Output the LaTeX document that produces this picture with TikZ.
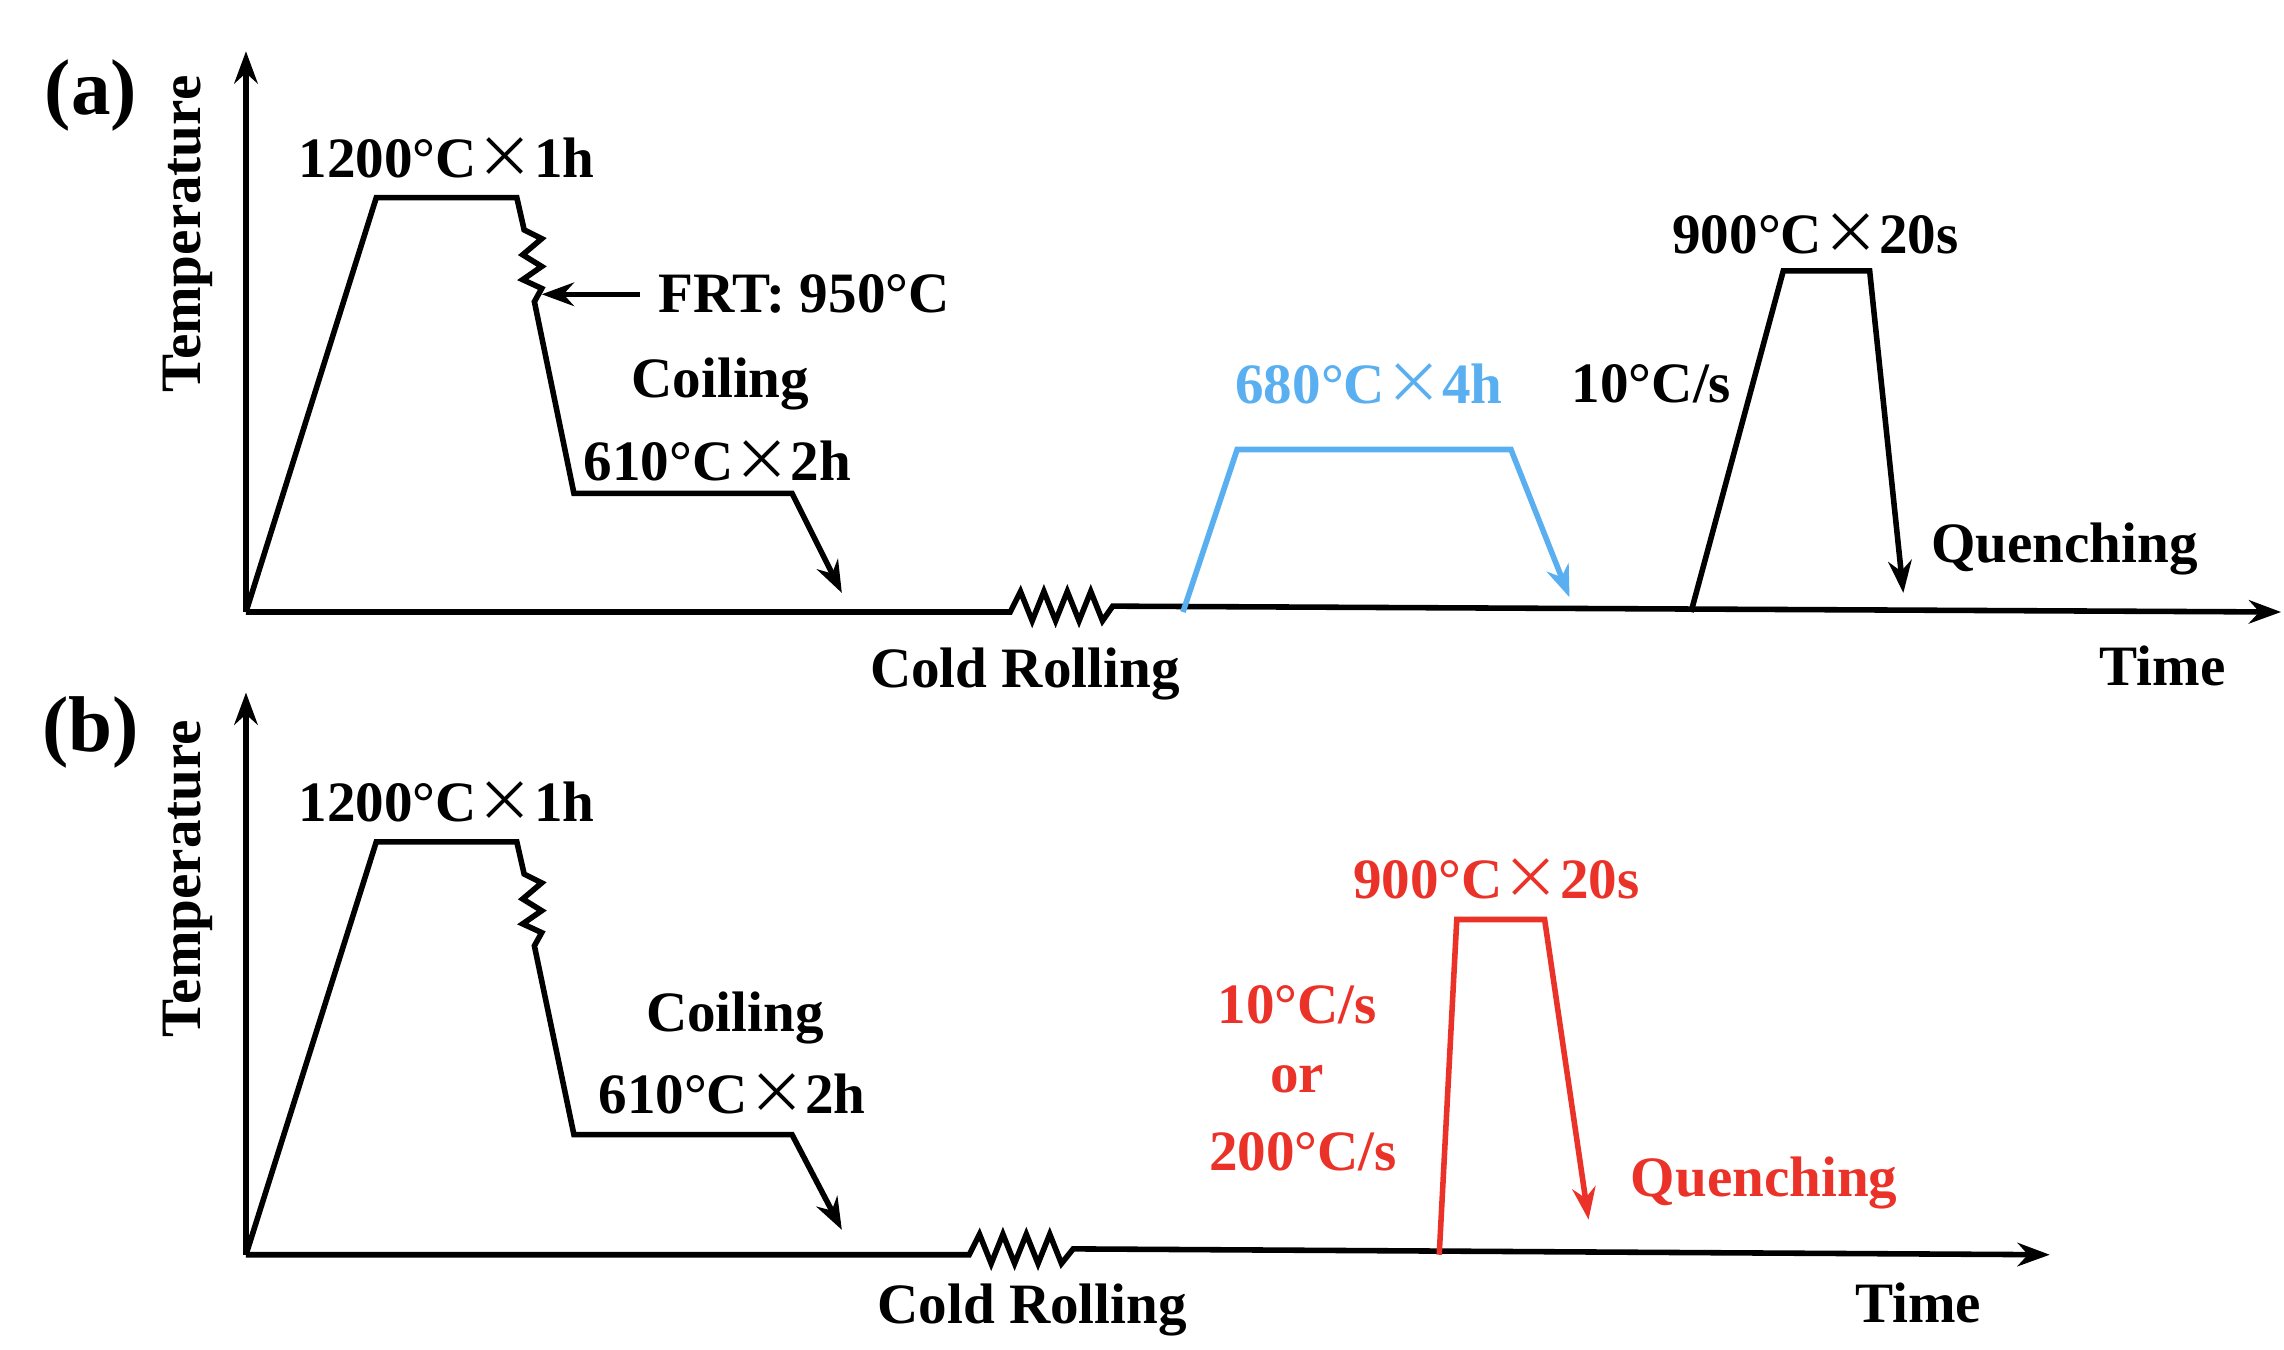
\documentclass[tikz,border=0pt]{standalone}
\usepackage{fontspec}
\setmainfont{Liberation Serif}
\newfontfamily\cjk{Noto Sans CJK SC}
\newcommand{\X}{{\cjk\fontseries{m}\selectfont ×}}
\usetikzlibrary{arrows.meta}
\definecolor{bl}{RGB}{90,175,240}
\definecolor{rd}{RGB}{235,50,40}
\begin{document}
\begin{tikzpicture}[x=0.5pt,y=-0.5pt,line width=1.9pt,line join=miter,
  lab/.style={font=\bfseries\fontsize{19.5}{22}\selectfont,inner sep=0pt},
  big/.style={font=\bfseries\fontsize{27}{30}\selectfont,inner sep=0pt},
  arr/.style={-{Stealth[length=11pt,width=8pt]}}]
\useasboundingbox (0,0) rectangle (1560,922);
% ---------- (a) ----------
\node[big] (pa) at (62,65) {(a)};
\node[lab,rotate=90] (ta) at (128,160) {Temperature};
\coordinate (oa) at (168,418);
\coordinate (ya) at (168,35);
\coordinate (xa) at (1558,418);
\draw[arr] (oa) -- (ya);
\draw[arr] (oa) -- (690,418) -- (697,404) -- (705,424) -- (713,404) -- (721,424) -- (729,404) -- (737,424) -- (745,404) -- (753,424) -- (760,414) -- (xa);
\draw[arr] (oa) -- (257,135) -- (353,135) -- (358,157) -- (370,163) -- (357,174) -- (370,182) -- (357,191) -- (370,197) -- (365,206) -- (392,337) -- (541,337) -- (575,405);
\coordinate (frt) at (370,201);
\node[lab,anchor=west] (frtl) at (448,201) {FRT: 950°C};
\draw[arr] (437,201) -- (frt);
\node[lab] (l1a) at (305,108) {1200°C\X1h};
\node[lab] (cla) at (492,262) {Coiling};
\node[lab] (l2a) at (490,315) {610°C\X2h};
\node[lab] (cra) at (700,460) {Cold Rolling};
\draw[arr,bl] (808,418) -- (845,307) -- (1032,307) -- (1072,408);
\node[lab,text=bl] (l3a) at (935,262) {680°C\X4h};
\draw[arr] (1155,418) -- (1218,185) -- (1277,185) -- (1300,405);
\node[lab] (l4a) at (1240,160) {900°C\X20s};
\node[lab] (r1a) at (1128,262) {10°C/s};
\node[lab] (qa) at (1410,375) {Quenching};
\node[lab] (tia) at (1477,455) {Time};
% ---------- (b) ----------
\node[big] (pb) at (62,500) {(b)};
\node[lab,rotate=90] (tb) at (128,600) {Temperature};
\coordinate (ob) at (168,857);
\coordinate (yb) at (168,473);
\coordinate (xb) at (1400,857);
\draw[arr] (ob) -- (yb);
\draw[arr] (ob) -- (662,857) -- (669,843) -- (677,863) -- (685,843) -- (693,863) -- (701,843) -- (709,863) -- (717,843) -- (725,863) -- (733,853) -- (xb);
\draw[arr] (ob) -- (257,575) -- (353,575) -- (358,597) -- (370,603) -- (357,614) -- (370,622) -- (357,631) -- (370,637) -- (365,646) -- (392,775) -- (541,775) -- (575,840);
\node[lab] (l1b) at (305,548) {1200°C\X1h};
\node[lab] (clb) at (502,695) {Coiling};
\node[lab] (l2b) at (500,747) {610°C\X2h};
\node[lab] (crb) at (705,895) {Cold Rolling};
\node[lab] (tib) at (1310,890) {Time};
\draw[arr,rd] (983,857) -- (995,628) -- (1055,628) -- (1085,833);
\node[lab,text=rd] (l4b) at (1022,600) {900°C\X20s};
\node[lab,text=rd] (r1b) at (886,686) {10°C/s};
\node[lab,text=rd] (orb) at (886,737) {or};
\node[lab,text=rd] (r2b) at (890,787) {200°C/s};
\node[lab,text=rd] (qb) at (1205,808) {Quenching};
\end{tikzpicture}
\end{document}
